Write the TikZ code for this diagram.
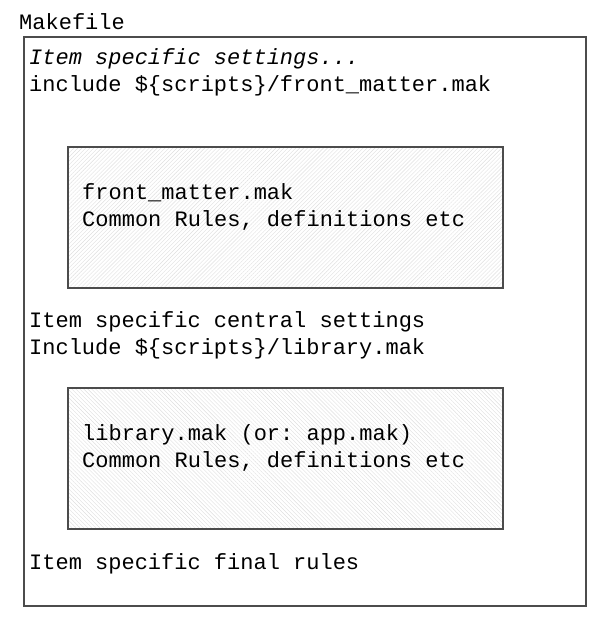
\documentclass[tikz,border=0pt]{standalone}
\usepackage{fontspec}
\setmonofont{Liberation Mono}
\usetikzlibrary{patterns.meta}
\begin{document}
\begin{tikzpicture}[x=1pt,y=-1pt,
  txt/.style={anchor=base west,inner sep=0pt,font=\ttfamily\fontsize{22}{27}\selectfont},
  frame/.style={draw=black!70,line width=1.1pt},
  hatchA/.style={frame,pattern={Lines[angle=45,distance=2.8pt,line width=0.4pt]},pattern color=black!13},
  hatchB/.style={frame,pattern={Lines[angle=-45,distance=2.8pt,line width=0.4pt]},pattern color=black!13}]
\useasboundingbox (0,0) rectangle (606,622);
\draw[frame] (24,37) rectangle (586,606);
\draw[hatchA] (68,147) rectangle (503,288);
\draw[hatchB] (68,388) rectangle (503,529);
\node[txt] (mk) at (19,29) {Makefile};
\node[txt] (t1) at (29,64) {\itshape Item specific settings...};
\node[txt] (t2) at (29,91) {include \$\{scripts\}/front\_matter.mak};
\node[txt] (b1a) at (82,199) {front\_matter.mak};
\node[txt] (b1b) at (82,226) {Common Rules, definitions etc};
\node[txt] (t3) at (29,327) {Item specific central settings};
\node[txt] (t4) at (29,354) {Include \$\{scripts\}/library.mak};
\node[txt] (b2a) at (82,440) {library.mak (or: app.mak)};
\node[txt] (b2b) at (82,467) {Common Rules, definitions etc};
\node[txt] (t5) at (29,569) {Item specific final rules};
\end{tikzpicture}
\end{document}
